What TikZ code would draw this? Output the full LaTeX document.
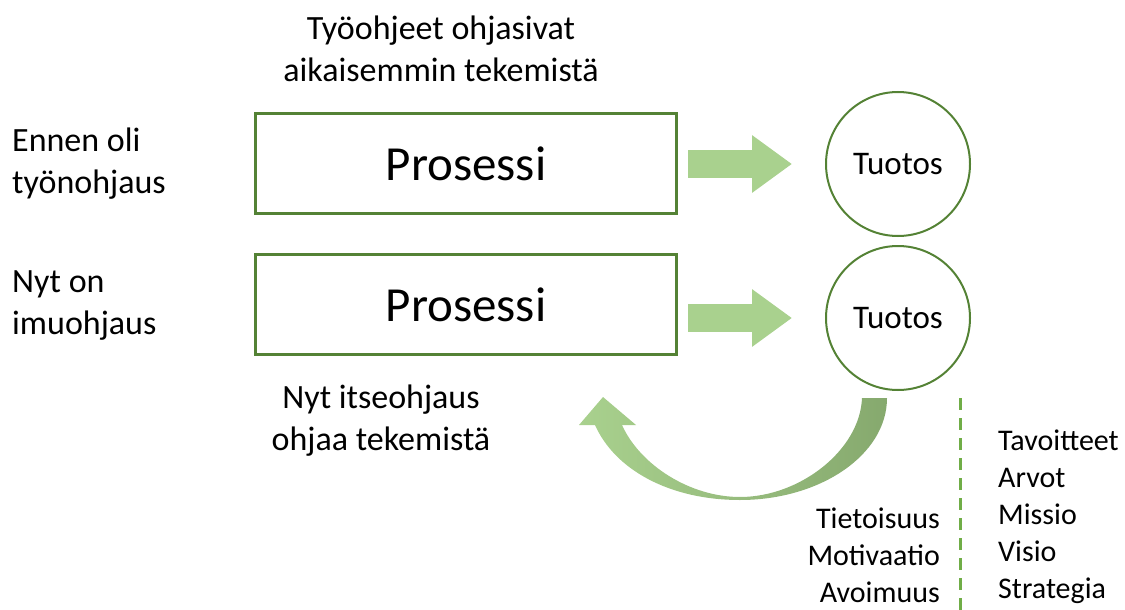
\documentclass[tikz,border=0pt]{standalone}
\usepackage{fontspec}
\setmainfont{Carlito}
\usepackage{tikz}
\usetikzlibrary{arrows.meta}
\usepackage{xcolor}
\definecolor{boxgreen}{HTML}{548235}
\definecolor{arrowlight}{HTML}{A9D18E}
\definecolor{arrowdark}{HTML}{86A96E}
\definecolor{dashgreen}{HTML}{70AD47}

\begin{document}
\begin{tikzpicture}[x=1pt, y=-1pt,
    procbox/.style={draw=boxgreen, line width=3pt, minimum width=421pt, minimum height=100pt, font=\fontsize{49}{58}\selectfont},
    outcome/.style={circle, draw=boxgreen, line width=2pt, minimum size=144pt, inner sep=0pt, font=\fontsize{33}{40}\selectfont},
    label/.style={inner sep=0pt, font=\fontsize{34}{42}\selectfont},
    small/.style={inner sep=0pt, font=\fontsize{30}{37}\selectfont},
    flowarrow/.style={arrowlight, line width=28pt, -{Triangle[length=40pt, width=55pt]}}]
\useasboundingbox (0,0) rectangle (1125,610);

% Before
\node[label, align=center] (topnote) at (441,49) {Työohjeet ohjasivat\\aikaisemmin tekemistä};
\node[label, align=left, anchor=west] (before) at (12,164) {Ennen oli\\työnohjaus};
\node[procbox] (p1) at (466,163.5) {Prosessi};
\node[outcome] (t1) at (898,164) {Tuotos};
\draw[flowarrow, shorten <=10pt, shorten >=33pt] (p1.east |- t1) -- (t1);

% Now
\node[label, align=left, anchor=west] (now) at (12,306) {Nyt on\\imuohjaus};
\node[procbox] (p2) at (466,304.5) {Prosessi};
\node[outcome] (t2) at (898,318) {Tuotos};
\draw[flowarrow, shorten <=10pt, shorten >=33pt] (p2.east |- t2) -- (t2);
\node[label, align=center] (selfnote) at (381,421) {Nyt itseohjaus\\ohjaa tekemistä};

% Feedback arrow
\shade[left color=arrowlight, middle color=arrowlight, right color=arrowdark]
  (887,398) .. controls (887,455) and (820,500) .. (740,500)
  .. controls (670,500) and (615,470) .. (595,425)
  -- (579,425) -- (603,397) -- (636,425) -- (622,425)
  .. controls (640,465) and (690,497) .. (740,497)
  .. controls (800,497) and (860,450) .. (862,398) -- cycle;

% Drivers
\node[small, align=right, anchor=east] (inner) at (940,555) {Tietoisuus\\Motivaatio\\Avoimuus};
\coordinate (d1) at (960,398);
\coordinate (d2) at (960,610);
\draw[dashgreen, line width=3pt, dash pattern=on 12pt off 8pt] (d1) -- (d2);
\node[small, align=left, anchor=west] (outer) at (998,517) {Tavoitteet\\Arvot\\Missio\\Visio\\Strategia};
\end{tikzpicture}
\end{document}
